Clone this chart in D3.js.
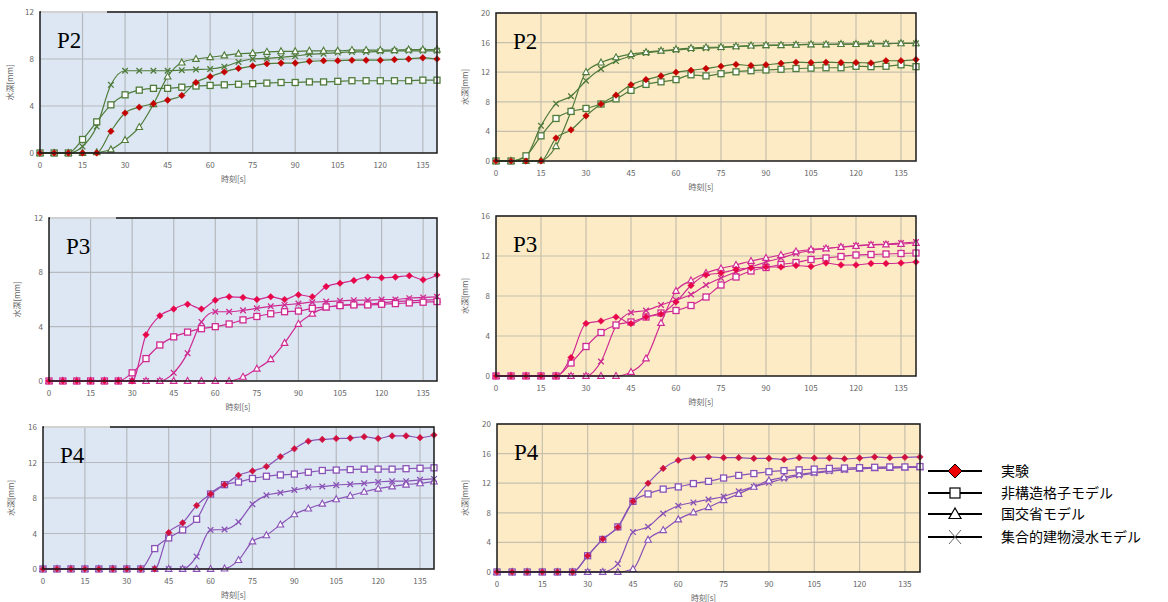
<!DOCTYPE html>
<html>
<head>
<meta charset="utf-8">
<script src="https://cdn.jsdelivr.net/npm/d3@7"></script>
<style>
  body { margin: 0; background: #fff; }
  svg text { font-family: "Noto Sans CJK JP", "Noto Sans", sans-serif; }
  svg text.plabel { font-family: "Liberation Serif", "DejaVu Serif", serif; }
</style>
</head>
<body>
<div id="chart"></div>
<script>
// time axis (s)
const times = [0, 5, 10, 15, 20, 25, 30, 35, 40, 45, 50, 55, 60, 65, 70, 75, 80, 85, 90, 95, 100, 105, 110, 115, 120, 125, 130, 135, 140];
const xTicks = [0, 15, 30, 45, 60, 75, 90, 105, 120, 135];
const seriesNames = ['実験', '非構造格子モデル', '国交省モデル', '集合的建物浸水モデル'];

// P2 left (blue)
const p2L_exp  = [0, 0, 0, 0, 0, 1.85, 3.4, 3.9, 4.2, 4.5, 4.9, 6.0, 6.5, 6.9, 7.2, 7.4, 7.6, 7.65, 7.65, 7.8, 7.85, 7.85, 7.9, 7.9, 7.9, 7.95, 8.0, 8.1, 8.0];
const p2L_grid = [0, 0, 0, 1.15, 2.65, 4.1, 4.95, 5.35, 5.5, 5.5, 5.6, 5.7, 5.75, 5.8, 5.85, 5.9, 5.95, 6.0, 6.0, 6.05, 6.05, 6.1, 6.15, 6.15, 6.15, 6.15, 6.15, 6.2, 6.2];
const p2L_mlit = [0, 0, 0, 0, 0.05, 0.3, 1.1, 2.2, 4.15, 6.5, 7.7, 8.0, 8.15, 8.3, 8.45, 8.5, 8.6, 8.65, 8.65, 8.7, 8.7, 8.7, 8.75, 8.75, 8.75, 8.75, 8.8, 8.8, 8.8];
const p2L_bldg = [0, 0, 0, 0.55, 2.25, 5.8, 7.0, 7.0, 7.0, 7.0, 7.05, 7.1, 7.15, 7.35, 7.75, 8.0, 8.05, 8.15, 8.25, 8.4, 8.45, 8.55, 8.6, 8.6, 8.65, 8.7, 8.7, 8.7, 8.7];

// P2 right (yellow)
const p2R_exp  = [0, 0, 0, 0, 3.1, 4.2, 6.1, 7.7, 8.9, 10.3, 11.0, 11.5, 12.0, 12.25, 12.5, 12.8, 13.05, 12.9, 13.0, 13.2, 13.35, 13.3, 13.35, 13.3, 13.3, 13.25, 13.55, 13.55, 13.7];
const p2R_grid = [0, 0, 0.7, 3.4, 5.75, 6.7, 7.1, 7.7, 8.4, 9.55, 10.35, 10.7, 11.0, 11.65, 11.5, 11.8, 12.05, 12.2, 12.3, 12.4, 12.5, 12.55, 12.6, 12.6, 12.8, 12.75, 12.8, 13.0, 12.75];
const p2R_mlit = [0, 0, 0, 0.05, 2.0, 6.7, 12.0, 13.3, 14.0, 14.45, 14.7, 14.9, 15.1, 15.25, 15.35, 15.4, 15.5, 15.6, 15.65, 15.65, 15.7, 15.75, 15.75, 15.8, 15.8, 15.85, 15.85, 15.9, 15.9];
const p2R_bldg = [0, 0, 0.65, 4.75, 7.75, 8.75, 10.85, 12.45, 13.5, 14.15, 14.6, 14.85, 15.0, 15.15, 15.25, 15.35, 15.45, 15.55, 15.6, 15.65, 15.7, 15.75, 15.75, 15.8, 15.8, 15.85, 15.85, 15.9, 15.9];

// P3 left (blue)
const p3L_exp  = [0, 0, 0, 0, 0, 0, 0, 3.4, 4.8, 5.3, 5.65, 5.3, 5.95, 6.2, 6.15, 6.0, 6.2, 6.0, 6.35, 6.2, 6.95, 7.2, 7.4, 7.65, 7.6, 7.65, 7.75, 7.45, 7.8];
const p3L_grid = [0, 0, 0, 0, 0, 0, 0.6, 1.65, 2.65, 3.25, 3.6, 3.85, 4.0, 4.2, 4.5, 4.75, 4.95, 5.1, 5.15, 5.35, 5.45, 5.55, 5.6, 5.6, 5.65, 5.7, 5.75, 5.8, 5.85];
const p3L_mlit = [0, 0, 0, 0, 0, 0, 0, 0, 0, 0, 0, 0, 0, 0, 0.3, 0.9, 1.6, 2.8, 4.2, 4.95, 5.4, 5.55, 5.65, 5.65, 5.75, 5.85, 5.9, 5.95, 6.0];
const p3L_bldg = [0, 0, 0, 0, 0, 0, 0, 0, 0, 0.6, 2.05, 4.35, 5.1, 5.1, 5.2, 5.35, 5.5, 5.6, 5.7, 5.8, 5.85, 5.9, 5.95, 5.95, 6.0, 6.0, 6.1, 6.15, 6.2];

// P3 right (yellow)
const p3R_exp  = [0, 0, 0, 0, 0, 1.85, 5.25, 5.5, 5.9, 5.25, 5.9, 6.2, 7.4, 9.05, 10.1, 10.3, 10.65, 10.8, 10.9, 10.9, 11.05, 10.95, 11.3, 11.1, 11.1, 11.25, 11.25, 11.3, 11.4];
const p3R_grid = [0, 0, 0, 0, 0, 1.3, 2.95, 4.35, 5.1, 5.4, 5.9, 6.3, 6.55, 7.05, 7.9, 9.1, 9.9, 10.5, 10.85, 11.15, 11.35, 11.65, 11.8, 11.95, 12.1, 12.15, 12.2, 12.25, 12.3];
const p3R_mlit = [0, 0, 0, 0, 0, 0, 0, 0, 0, 0.4, 1.75, 5.3, 8.5, 9.55, 10.3, 10.75, 11.1, 11.5, 11.8, 12.1, 12.45, 12.65, 12.75, 12.9, 13.0, 13.1, 13.15, 13.2, 13.3];
const p3R_bldg = [0, 0, 0, 0, 0, 0, 0, 1.45, 5.0, 6.35, 6.55, 7.1, 7.6, 8.15, 9.1, 9.8, 10.4, 10.9, 11.4, 11.8, 12.25, 12.55, 12.75, 12.9, 13.05, 13.15, 13.2, 13.3, 13.4];

// P4 left (blue)
const p4L_exp  = [0, 0, 0, 0, 0, 0, 0, 0, 0, 4.1, 5.2, 7.15, 8.45, 9.5, 10.55, 11.05, 11.55, 12.65, 13.55, 14.4, 14.6, 14.7, 14.75, 14.9, 14.7, 15.0, 15.0, 14.8, 15.1];
const p4L_grid = [0, 0, 0, 0, 0, 0, 0, 0, 2.3, 3.5, 4.4, 5.6, 8.45, 9.5, 9.8, 10.2, 10.45, 10.6, 10.7, 10.9, 11.1, 11.15, 11.2, 11.25, 11.25, 11.25, 11.3, 11.35, 11.4];
const p4L_mlit = [0, 0, 0, 0, 0, 0, 0, 0, 0, 0, 0, 0, 0, 0.05, 1.0, 3.1, 3.8, 5.0, 6.15, 6.8, 7.35, 7.85, 8.25, 8.7, 9.05, 9.3, 9.5, 9.65, 9.85];
const p4L_bldg = [0, 0, 0, 0, 0, 0, 0, 0, 0, 0, 0, 1.4, 4.4, 4.45, 5.3, 7.3, 8.3, 8.6, 8.9, 9.2, 9.3, 9.45, 9.55, 9.65, 9.8, 9.9, 9.9, 10.05, 10.15];

// P4 right (yellow)
const p4R_exp  = [0, 0, 0, 0, 0, 0, 2.2, 4.45, 6.05, 9.55, 12.0, 14.0, 15.1, 15.45, 15.55, 15.45, 15.45, 15.35, 15.35, 15.2, 15.45, 15.4, 15.4, 15.3, 15.4, 15.55, 15.45, 15.5, 15.55];
const p4R_grid = [0, 0, 0, 0, 0, 0, 2.2, 4.4, 6.1, 9.55, 10.55, 11.2, 11.5, 11.95, 12.25, 12.7, 13.05, 13.3, 13.55, 13.7, 13.8, 13.9, 14.0, 14.05, 14.1, 14.15, 14.2, 14.2, 14.25];
const p4R_mlit = [0, 0, 0, 0, 0, 0, 0, 0, 0, 0.4, 4.35, 5.65, 7.1, 8.05, 8.75, 9.7, 10.55, 11.5, 12.35, 12.8, 13.2, 13.45, 13.7, 13.85, 13.95, 14.0, 14.05, 14.1, 14.15];
const p4R_bldg = [0, 0, 0, 0, 0, 0, 0, 0, 1.1, 5.4, 6.1, 7.9, 8.95, 9.4, 9.8, 10.2, 10.9, 11.5, 12.05, 12.6, 13.05, 13.35, 13.6, 13.8, 13.95, 14.05, 14.1, 14.2, 14.2];

const W = 1168, H = 602;
const svg = d3.select('#chart').append('svg').attr('width', W).attr('height', H);

const BLUE_BG = '#dce7f3';
const YELLOW_BG = '#fdebc6';

// panel layout
const panels = [
  { name: 'P2', x0: 40, x1: 437, y0: 12, y1: 153, ymax: 12, bg: BLUE_BG, grid: '#b6b9bd', line: '#4f7b3b', dot: '#c40000', series: [p2L_exp, p2L_grid, p2L_mlit, p2L_bldg], cut: true, yTitleX: 13 },
  { name: 'P2', x0: 496, x1: 916, y0: 13, y1: 161, ymax: 20, bg: YELLOW_BG, grid: '#c6c0ad', line: '#4f7b3b', dot: '#c40000', series: [p2R_exp, p2R_grid, p2R_mlit, p2R_bldg], cut: false, yTitleX: 468 },
  { name: 'P3', x0: 49, x1: 437, y0: 218, y1: 381, ymax: 12, bg: BLUE_BG, grid: '#b6b9bd', line: '#cf2a92', dot: '#e8054a', series: [p3L_exp, p3L_grid, p3L_mlit, p3L_bldg], cut: true, yTitleX: 20 },
  { name: 'P3', x0: 496, x1: 916, y0: 216, y1: 376, ymax: 16, bg: YELLOW_BG, grid: '#c6c0ad', line: '#cf2a92', dot: '#e8054a', series: [p3R_exp, p3R_grid, p3R_mlit, p3R_bldg], cut: false, yTitleX: 468 },
  { name: 'P4', x0: 43, x1: 434, y0: 427, y1: 569, ymax: 16, bg: BLUE_BG, grid: '#b6b9bd', line: '#8952b6', dot: '#d0103f', series: [p4L_exp, p4L_grid, p4L_mlit, p4L_bldg], cut: true, yTitleX: 14 },
  { name: 'P4', x0: 497, x1: 920, y0: 424, y1: 572, ymax: 20, bg: YELLOW_BG, grid: '#c6c0ad', line: '#8952b6', dot: '#d0103f', series: [p4R_exp, p4R_grid, p4R_mlit, p4R_bldg], cut: false, yTitleX: 468 },
];

function drawMarker(g, kind, color, dotColor) {
  if (kind === 0) {
    g.append('path').attr('d', 'M0,-3.3L3.3,0L0,3.3L-3.3,0Z')
      .attr('fill', dotColor).attr('stroke', dotColor).attr('stroke-width', 0.5);
  } else if (kind === 1) {
    g.append('rect').attr('x', -3).attr('y', -3).attr('width', 6).attr('height', 6)
      .attr('fill', '#fff').attr('stroke', color).attr('stroke-width', 1.3);
  } else if (kind === 2) {
    g.append('path').attr('d', 'M0,-3.6L3.3,2.4L-3.3,2.4Z')
      .attr('fill', '#fff').attr('stroke', color).attr('stroke-width', 1.1);
  } else {
    g.append('path').attr('d', 'M-2.8,-2.8L2.8,2.8M-2.8,2.8L2.8,-2.8')
      .attr('fill', 'none').attr('stroke', color).attr('stroke-width', 1.3);
  }
}

panels.forEach((p) => {
  const g = svg.append('g');
  const x = d3.scaleLinear().domain([0, 140]).range([p.x0, p.x1]);
  const y = d3.scaleLinear().domain([0, p.ymax]).range([p.y1, p.y0]);
  const yTicks = d3.range(0, p.ymax + 0.01, 4);

  g.append('rect').attr('x', p.x0).attr('y', p.y0)
    .attr('width', p.x1 - p.x0).attr('height', p.y1 - p.y0).attr('fill', p.bg);

  // grid
  g.selectAll('line.vg').data(xTicks.slice(1)).enter().append('line')
    .attr('x1', (d) => x(d)).attr('x2', (d) => x(d)).attr('y1', p.y0).attr('y2', p.y1)
    .attr('stroke', p.grid).attr('stroke-width', 1.2);
  g.selectAll('line.hg').data(yTicks.slice(1)).enter().append('line')
    .attr('x1', p.x0).attr('x2', p.x1).attr('y1', (d) => y(d)).attr('y2', (d) => y(d))
    .attr('stroke', p.grid).attr('stroke-width', 1.2);

  // axis labels
  g.selectAll('text.xt').data(xTicks).enter().append('text')
    .attr('x', (d) => x(d)).attr('y', p.y1 + 15).attr('text-anchor', 'middle')
    .attr('font-size', 8).attr('fill', '#666').text((d) => d);
  g.selectAll('text.yt').data(yTicks).enter().append('text')
    .attr('x', p.x0 - 6).attr('y', (d) => y(d) + 3).attr('text-anchor', 'end')
    .attr('font-size', 8).attr('fill', '#666').text((d) => d);

  g.append('text').attr('x', (p.x0 + p.x1) / 2 - 5).attr('y', p.y1 + 29)
    .attr('text-anchor', 'middle').attr('font-size', 8).attr('fill', '#666').text('時刻[s]');
  g.append('text')
    .attr('transform', `translate(${p.yTitleX},${(p.y0 + p.y1) / 2}) rotate(-90)`)
    .attr('text-anchor', 'middle').attr('font-size', 8).attr('fill', '#666').text('水深[mm]');

  // lines + markers, drawn in reverse so the experiment is on top
  const line = d3.line().x((d, i) => x(times[i])).y((d) => y(d)).curve(d3.curveMonotoneX);
  [3, 2, 1, 0].forEach((k) => {
    const vals = p.series[k];
    g.append('path').datum(vals).attr('d', line)
      .attr('fill', 'none').attr('stroke', p.line).attr('stroke-width', 1.2);
    const mk = g.selectAll(null).data(vals).enter().append('g')
      .attr('transform', (d, i) => `translate(${x(times[i])},${y(d)})`);
    mk.each(function () { drawMarker(d3.select(this), k, p.line, p.dot); });
  });

  // frame
  g.append('rect').attr('x', p.x0).attr('y', p.y0)
    .attr('width', p.x1 - p.x0).attr('height', p.y1 - p.y0)
    .attr('fill', 'none').attr('stroke', '#1a1a1a').attr('stroke-width', 1.5);
  if (p.cut) {
    g.append('line').attr('x1', p.x0 + 1).attr('x2', p.x0 + 67).attr('y1', p.y0).attr('y2', p.y0)
      .attr('stroke', '#fff').attr('stroke-width', 1.6);
  }

  g.append('text').attr('class', 'plabel').attr('x', p.x0 + 17).attr('y', p.y0 + 36)
    .attr('font-size', 23).attr('fill', '#000').text(p.name);
});

// legend
const legendY = [471, 493, 514, 537];
const lg = svg.append('g');
seriesNames.forEach((name, k) => {
  const row = lg.append('g').attr('transform', `translate(0,${legendY[k]})`);
  row.append('line').attr('x1', 928).attr('x2', 982).attr('y1', 0).attr('y2', 0)
    .attr('stroke', '#000').attr('stroke-width', 2);
  const m = row.append('g').attr('transform', 'translate(955,0)');
  if (k === 0) {
    m.append('path').attr('d', 'M0,-7L7,0L0,7L-7,0Z')
      .attr('fill', '#ee0000').attr('stroke', '#000').attr('stroke-width', 1);
  } else if (k === 1) {
    m.append('rect').attr('x', -5).attr('y', -5).attr('width', 10).attr('height', 10)
      .attr('fill', '#fff').attr('stroke', '#000').attr('stroke-width', 1.2);
  } else if (k === 2) {
    m.append('path').attr('d', 'M0,-6L6,4.5L-6,4.5Z')
      .attr('fill', '#fff').attr('stroke', '#000').attr('stroke-width', 1.2);
  } else {
    m.append('path').attr('d', 'M-6,-7L6,7M-6,7L6,-7')
      .attr('fill', 'none').attr('stroke', '#555').attr('stroke-width', 0.9);
  }
  row.append('text').attr('x', 1001).attr('y', 5).attr('font-size', 14).attr('fill', '#000').text(name);
});
</script>
</body>
</html>
